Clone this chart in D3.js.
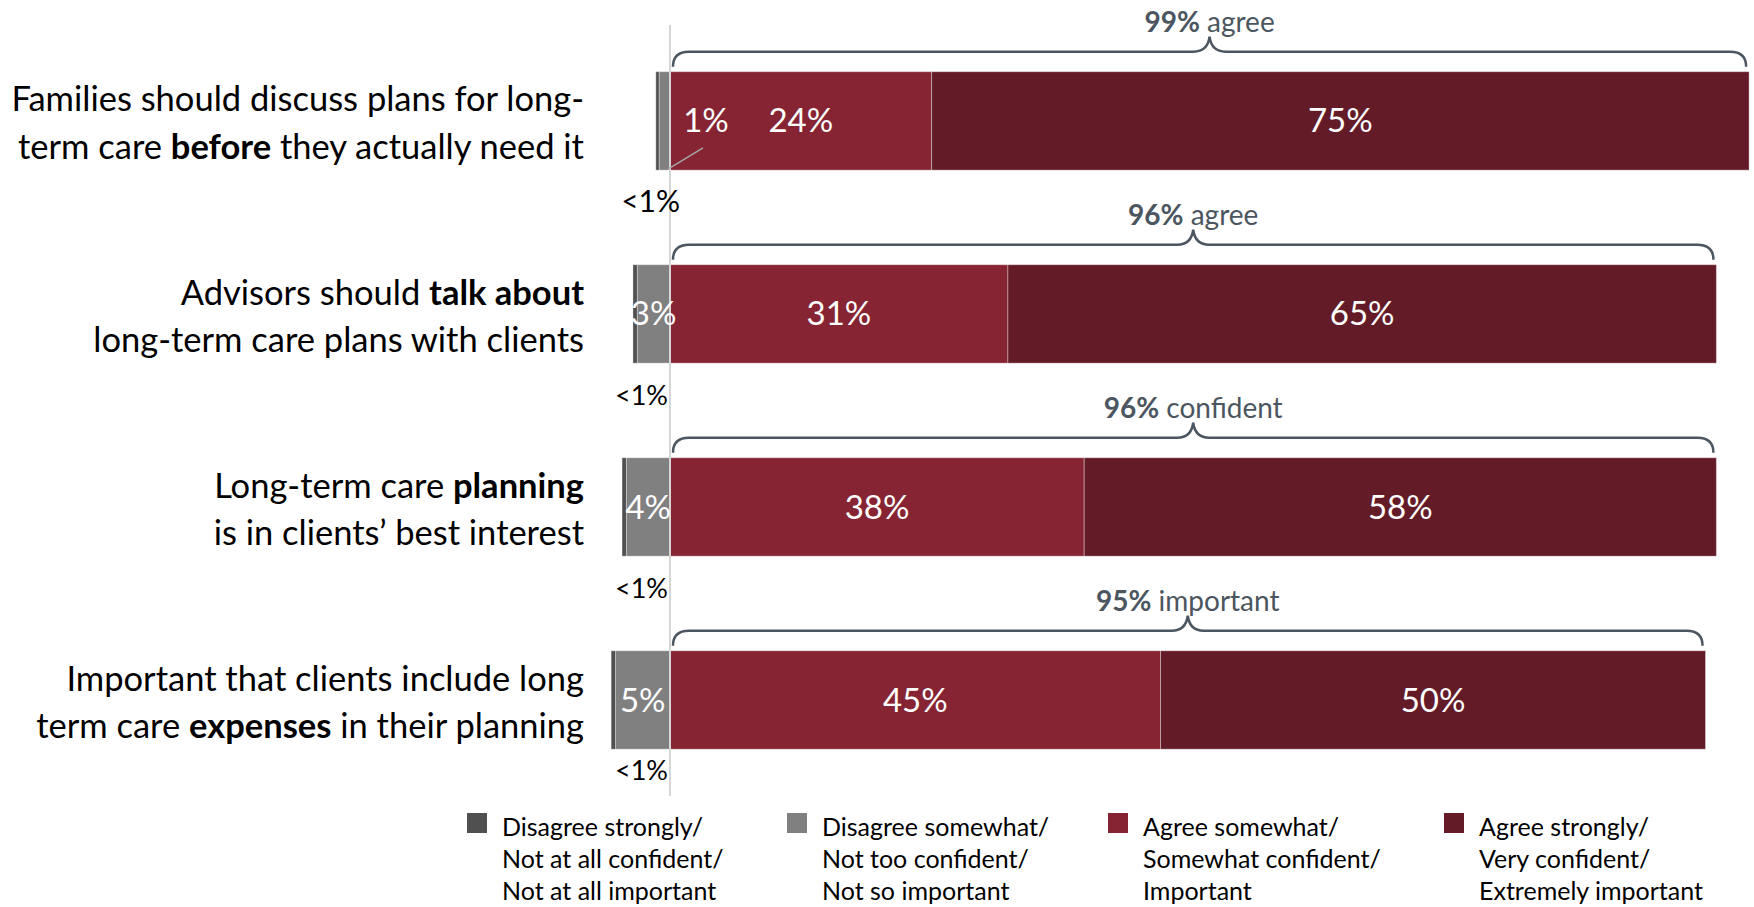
<!DOCTYPE html>
<html>
<head>
<meta charset="utf-8">
<script src="https://cdn.jsdelivr.net/npm/d3@7"></script>
<style>
  html, body { margin: 0; padding: 0; background: #fff; }
  svg { display: block; font-family: Lato, "Open Sans", sans-serif; }
</style>
</head>
<body>
<script>
// Statements shown on the left; **word** is set in bold.
const statements = [
  ["Families should discuss plans for long-", "term care **before** they actually need it"],
  ["Advisors should **talk about**", "long-term care plans with clients"],
  ["Long-term care **planning**", "is in clients\u2019 best interest"],
  ["Important that clients include long", "term care **expenses** in their planning"]
];

// Response shares (percent) per statement.
const disagreeStrongly = [0.3, 0.4, 0.4, 0.4];
const disagreeSomewhat = [1, 3, 4, 5];
const agreeSomewhat    = [24, 31, 38, 45];
const agreeStrongly    = [75, 65, 58, 50];

// Labels printed on the chart.
const strongDisagreeLabels = ["<1%", "<1%", "<1%", "<1%"];
const braceTotals = [99, 96, 96, 95];
const braceWords  = ["agree", "agree", "confident", "important"];

const legendKeys = ["disagreeStrongly", "disagreeSomewhat", "agreeSomewhat", "agreeStrongly"];
const legendLabels = [
  ["Disagree strongly/", "Not at all confident/", "Not at all important"],
  ["Disagree somewhat/", "Not too confident/", "Not so important"],
  ["Agree somewhat/", "Somewhat confident/", "Important"],
  ["Agree strongly/", "Very confident/", "Extremely important"]
];

const colors = {
  disagreeStrongly: "#505050",
  disagreeSomewhat: "#808080",
  agreeSomewhat: "#862433",
  agreeStrongly: "#641b28"
};

const W = 1754, H = 907;
const svg = d3.select("body").append("svg").attr("width", W).attr("height", H);

const rows = statements.map((s, i) => ({
  idx: i,
  disagreeSomewhat: -disagreeSomewhat[i],
  disagreeStrongly: -disagreeStrongly[i],
  agreeSomewhat: agreeSomewhat[i],
  agreeStrongly: agreeStrongly[i]
}));

const x = d3.scaleLinear().domain([0, 100]).range([670, 1760]);
const y = d3.scaleBand().domain(d3.range(statements.length))
  .range([71.7, 749.2]).paddingInner(0.49).paddingOuter(0);

// Negatives stack outward from zero: "somewhat" sits next to the axis.
const stack = d3.stack()
  .keys(["disagreeSomewhat", "disagreeStrongly", "agreeSomewhat", "agreeStrongly"])
  .offset(d3.stackOffsetDiverging);
const series = stack(rows);

// Bars
const gBars = svg.append("g");
series.forEach(s => {
  gBars.selectAll(null).data(s).join("rect")
    .attr("x", d => x(Math.min(d[0], d[1])))
    .attr("width", d => Math.abs(x(d[1]) - x(d[0])))
    .attr("y", (d, i) => y(i))
    .attr("height", y.bandwidth())
    .attr("fill", colors[s.key])
    .attr("stroke", "rgba(255,255,255,0.35)")
    .attr("stroke-width", 1);
});

// Zero line
svg.append("line")
  .attr("x1", x(0)).attr("x2", x(0))
  .attr("y1", 25).attr("y2", 796)
  .attr("stroke", "#d6d6d6").attr("stroke-width", 2);

// Values inside the bars
const valueFont = 33;
const midY = i => y(i) + y.bandwidth() / 2;
const byKey = Object.fromEntries(series.map(s => [s.key, s]));

["agreeSomewhat", "agreeStrongly"].forEach(k => {
  svg.append("g").selectAll("text").data(byKey[k]).join("text")
    .attr("x", d => (x(d[0]) + x(d[1])) / 2)
    .attr("y", (d, i) => midY(i))
    .attr("dy", "0.35em")
    .attr("text-anchor", "middle")
    .attr("fill", "#fff")
    .attr("font-size", valueFont)
    .text((d, i) => (k === "agreeSomewhat" ? agreeSomewhat[i] : agreeStrongly[i]) + "%");
});

// Disagree-somewhat values: centred on the segment, or pulled out with a leader when it is too thin.
byKey.disagreeSomewhat.forEach((d, i) => {
  const segW = Math.abs(x(d[1]) - x(d[0]));
  const label = disagreeSomewhat[i] + "%";
  if (segW < 20) {
    const lx = x(0) + 36;
    svg.append("text")
      .attr("x", lx).attr("y", midY(i)).attr("dy", "0.35em")
      .attr("text-anchor", "middle").attr("fill", "#fff")
      .attr("font-size", valueFont).text(label);
    svg.append("line")
      .attr("x1", x(0) - 2).attr("y1", y(i) + y.bandwidth() - 1)
      .attr("x2", lx - 3).attr("y2", midY(i) + 27)
      .attr("stroke", "#a6a6a6").attr("stroke-width", 1.5);
  } else {
    svg.append("text")
      .attr("x", (x(d[0]) + x(d[1])) / 2).attr("y", midY(i)).attr("dy", "0.35em")
      .attr("text-anchor", "middle").attr("fill", "#fff")
      .attr("font-size", valueFont).text(label);
  }
});

// "<1%" labels under each bar
strongDisagreeLabels.forEach((t, i) => {
  const first = i === 0;
  const bottom = y(i) + y.bandwidth();
  svg.append("text")
    .attr("x", first ? x(0) + 10 : x(0) - 2)
    .attr("y", bottom + (i === statements.length - 1 ? 31 : 42))
    .attr("text-anchor", "end")
    .attr("fill", "#000")
    .attr("font-size", first ? 30 : 27)
    .text(t);
});

// Braces with totals above each bar
const braceColor = "#4b5660";
statements.forEach((s, i) => {
  const top = y(i);
  const x0 = x(0) + 3;
  const x1 = x(agreeSomewhat[i] + agreeStrongly[i]) - 3;
  const cx = (x(0) + x(agreeSomewhat[i] + agreeStrongly[i])) / 2;
  const yEnd = top - 5, yLine = top - 20, yTip = top - 35, r = 16, t = 16;
  const p = d3.path();
  p.moveTo(x0, yEnd);
  p.quadraticCurveTo(x0, yLine, x0 + r, yLine);
  p.lineTo(cx - t, yLine);
  p.quadraticCurveTo(cx - 2, yLine, cx, yTip);
  p.quadraticCurveTo(cx + 2, yLine, cx + t, yLine);
  p.lineTo(x1 - r, yLine);
  p.quadraticCurveTo(x1, yLine, x1, yEnd);
  svg.append("path").attr("d", p.toString())
    .attr("fill", "none").attr("stroke", braceColor).attr("stroke-width", 2.5);

  const tx = svg.append("text")
    .attr("x", cx).attr("y", top - 40)
    .attr("text-anchor", "middle").attr("fill", braceColor)
    .attr("font-size", 28);
  tx.append("tspan").attr("font-weight", "bold").text(braceTotals[i] + "%");
  tx.append("tspan").text(" " + braceWords[i]);
});

// Statement labels, right-aligned
function richLine(sel, str) {
  str.split(/(\*\*[^*]+\*\*)/).filter(Boolean).forEach(part => {
    const bold = part.startsWith("**");
    sel.append("tspan")
      .attr("font-weight", bold ? "bold" : "normal")
      .text(bold ? part.slice(2, -2) : part);
  });
}
statements.forEach((lines, i) => {
  const c = midY(i);
  lines.forEach((ln, j) => {
    const t = svg.append("text")
      .attr("x", 584)
      .attr("y", c + (j === 0 ? -21.5 : 25.8))
      .attr("dy", "0.35em")
      .attr("text-anchor", "end")
      .attr("fill", "#000")
      .attr("font-size", 34.5);
    richLine(t, ln);
  });
});

// Legend
const legendX = [467, 787, 1108, 1444];
legendKeys.forEach((k, i) => {
  const g = svg.append("g").attr("transform", `translate(${legendX[i]},813)`);
  g.append("rect").attr("width", 20).attr("height", 20).attr("fill", colors[k]);
  legendLabels[i].forEach((ln, j) => {
    g.append("text").attr("x", 35).attr("y", 23 + j * 32)
      .attr("font-size", 25).attr("fill", "#000").text(ln);
  });
});
</script>
</body>
</html>
